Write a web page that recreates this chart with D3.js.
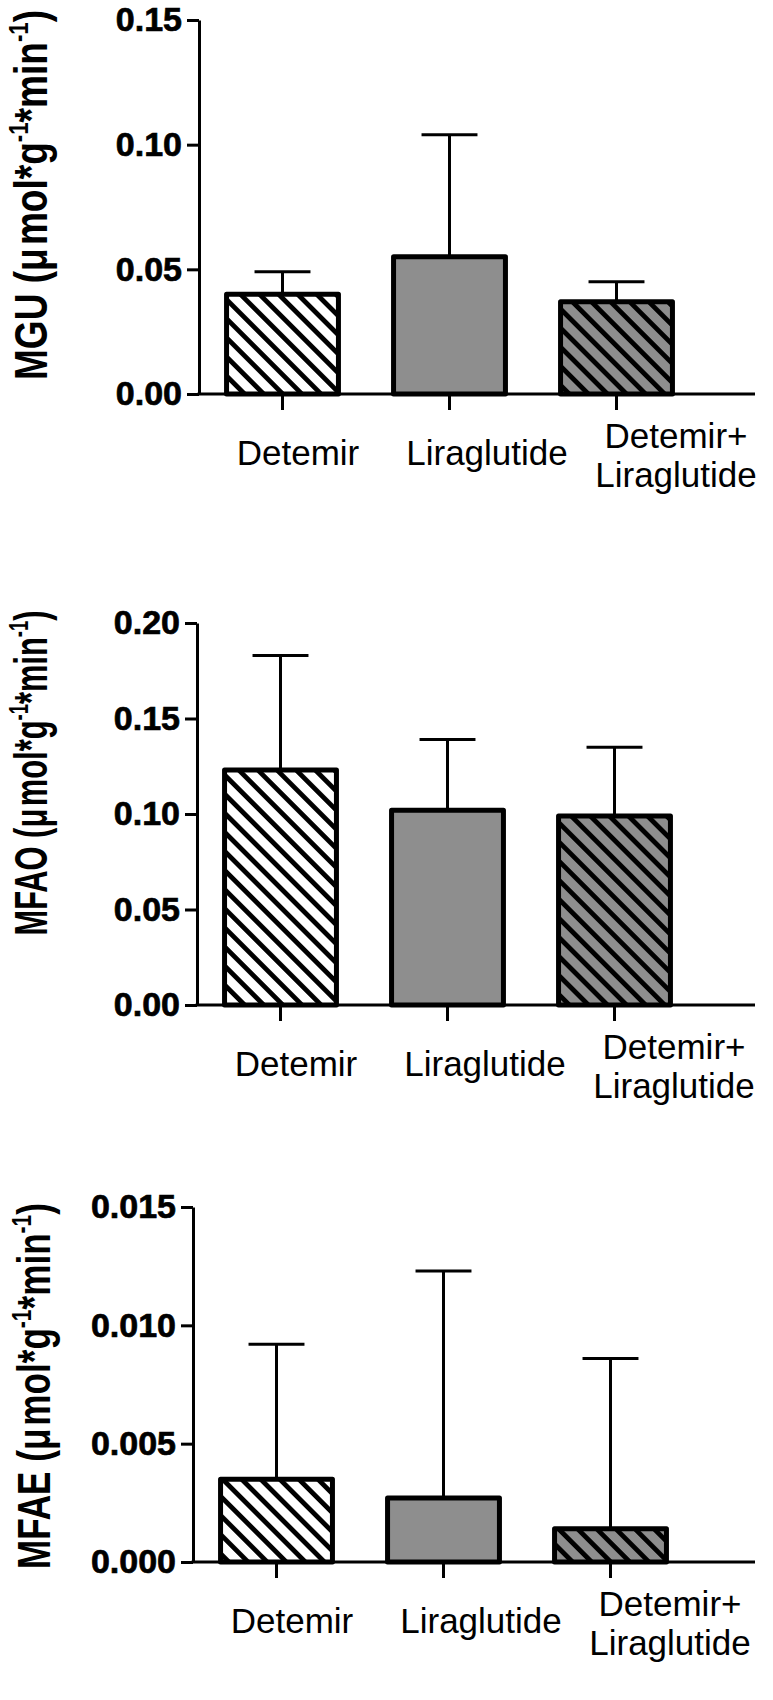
<!DOCTYPE html>
<html>
<head>
<meta charset="utf-8">
<script src="https://cdn.jsdelivr.net/npm/d3@7"></script>
<style>
  body { margin: 0; background: #fff; }
  svg text { font-family: "Liberation Sans", Arial, sans-serif; }
</style>
</head>
<body>
<svg id="chart_svg" width="773" height="1700"></svg>
<script>
// groups on the x axis (each label is split into lines)
const categories = ["Detemir", "Liraglutide", "Detemir+Liraglutide"];
const categoryLines = [["Detemir"], ["Liraglutide"], ["Detemir+", "Liraglutide"]];

// MGU: mean and upper error (SD)
const mguMean = [0.040, 0.055, 0.037];
const mguErr = [0.009, 0.049, 0.008];
const mguTicks = [0, 0.05, 0.10, 0.15];

// MFAO
const mfaoMean = [0.123, 0.102, 0.099];
const mfaoErr = [0.060, 0.037, 0.036];
const mfaoTicks = [0, 0.05, 0.10, 0.15, 0.20];

// MFAE
const mfaeMean = [0.0035, 0.0027, 0.0014];
const mfaeErr = [0.0057, 0.0096, 0.0072];
const mfaeTicks = [0, 0.005, 0.010, 0.015];

const fills = ["url(#hatch_white)", "#8e8e8e", "url(#hatch_grey)"];

const svg = d3.select("#chart_svg");

/**
 * Hatch patterns for the two striped bars
 */
const defs = svg.append("defs");
[["hatch_white", "#fff"], ["hatch_grey", "#8e8e8e"]].forEach(([id, bg]) => {
  const p = defs.append("pattern")
    .attr("id", id)
    .attr("patternUnits", "userSpaceOnUse")
    .attr("width", 13.5)
    .attr("height", 13.5)
    .attr("patternTransform", "rotate(-45)");
  p.append("rect").attr("width", 13.5).attr("height", 13.5).attr("fill", bg);
  p.append("rect").attr("width", 4.8).attr("height", 13.5).attr("fill", "#000");
});

const panels = [
  { name: "MGU", mean: mguMean, err: mguErr, ticks: mguTicks, fmt: d3.format(".2f"),
    left: 199, top: 20, bottom: 394, labelX: 47, labelY: 195, labelLen: 370 },
  { name: "MFAO", mean: mfaoMean, err: mfaoErr, ticks: mfaoTicks, fmt: d3.format(".2f"),
    left: 197, top: 623, bottom: 1005, labelX: 47, labelY: 773, labelLen: 325 },
  { name: "MFAE", mean: mfaeMean, err: mfaeErr, ticks: mfaeTicks, fmt: d3.format(".3f"),
    left: 193, top: 1207, bottom: 1562, labelX: 50, labelY: 1386, labelLen: 366 }
];

panels.forEach((pn) => {
  const g = svg.append("g");
  const bandRight = pn.left + 501;
  const axisRight = 755;

  const xScale = d3.scaleBand()
    .domain(categories)
    .range([pn.left, bandRight])
    .paddingInner(0.33)
    .paddingOuter(0.165);

  // category labels sit a little wider apart than the bars
  const labelScale = d3.scalePoint()
    .domain(categories)
    .range([pn.left + 99, pn.left + 477]);

  const yScale = d3.scaleLinear()
    .domain([0, d3.max(pn.ticks)])
    .range([pn.bottom, pn.top]);

  const data = categories.map((c, i) => ({ cat: c, mean: pn.mean[i], err: pn.err[i], fill: fills[i], lines: categoryLines[i] }));

  // error bars (upper only)
  const eb = g.selectAll(".err").data(data).enter().append("g").attr("class", "err")
    .attr("stroke", "#000").attr("stroke-width", 3);
  eb.append("line")
    .attr("x1", (d) => xScale(d.cat) + xScale.bandwidth() / 2)
    .attr("x2", (d) => xScale(d.cat) + xScale.bandwidth() / 2)
    .attr("y1", (d) => yScale(d.mean))
    .attr("y2", (d) => yScale(d.mean + d.err));
  eb.append("line")
    .attr("x1", (d) => xScale(d.cat) + xScale.bandwidth() / 4)
    .attr("x2", (d) => xScale(d.cat) + xScale.bandwidth() * 3 / 4)
    .attr("y1", (d) => yScale(d.mean + d.err))
    .attr("y2", (d) => yScale(d.mean + d.err));

  // bars
  g.selectAll(".bar").data(data).enter().append("rect")
    .attr("class", "bar")
    .attr("x", (d) => xScale(d.cat))
    .attr("y", (d) => yScale(d.mean))
    .attr("width", xScale.bandwidth())
    .attr("height", (d) => yScale(0) - yScale(d.mean))
    .attr("fill", (d) => d.fill)
    .attr("stroke", "#000")
    .attr("stroke-width", 5)
    .attr("stroke-linejoin", "round");

  // y axis
  const yAxis = d3.axisLeft(yScale).tickValues(pn.ticks).tickFormat(pn.fmt).tickSizeInner(12).tickSizeOuter(0).tickPadding(5);
  const gy = g.append("g").attr("transform", "translate(" + pn.left + ",0)").call(yAxis);
  gy.select(".domain").attr("stroke-width", 3).attr("stroke", "#000");
  gy.selectAll(".tick line").attr("stroke-width", 3).attr("stroke", "#000");
  gy.selectAll(".tick text")
    .attr("font-family", "Liberation Sans, Arial, sans-serif")
    .attr("font-size", 34)
    .attr("font-weight", "bold")
    .attr("fill", "#000")
    .attr("stroke", "#000")
    .attr("stroke-width", 0.7);

  // x axis
  const xAxis = d3.axisBottom(xScale).tickSizeInner(16).tickSizeOuter(0).tickFormat("");
  const gx = g.append("g").attr("transform", "translate(0," + pn.bottom + ")").call(xAxis);
  gx.select(".domain").attr("stroke-width", 3).attr("stroke", "#000")
    .attr("d", "M" + (pn.left - 1.5) + ",0H" + axisRight);
  gx.selectAll(".tick line").attr("stroke-width", 3).attr("stroke", "#000");

  // category labels
  const lab = g.selectAll(".cat").data(data).enter().append("text")
    .attr("class", "cat")
    .attr("text-anchor", "middle")
    .attr("font-size", 35)
    .attr("fill", "#000");
  lab.each(function (d) {
    const t = d3.select(this);
    const x = labelScale(d.cat);
    const y0 = d.lines.length === 1 ? pn.bottom + 71 : pn.bottom + 54;
    d.lines.forEach((ln, k) => {
      t.append("tspan").attr("x", x).attr("y", y0 + k * 38.5).text(ln);
    });
  });

  // y label
  const fs = 47;
  const yl = g.append("text")
    .attr("transform", "translate(" + pn.labelX + "," + pn.labelY + ") rotate(-90)")
    .attr("text-anchor", "middle")
    .attr("font-size", fs)
    .attr("font-weight", "bold")
    .attr("textLength", pn.labelLen)
    .attr("lengthAdjust", "spacingAndGlyphs");
  yl.append("tspan").text(pn.name + " (\u03bc");
  yl.append("tspan").attr("dx", 4).text("mol*g");
  yl.append("tspan").attr("dy", -19).attr("font-size", fs * 0.6).text("-1");
  yl.append("tspan").attr("dy", 19).text("*min");
  yl.append("tspan").attr("dy", -19).attr("font-size", fs * 0.6).text("-1");
  yl.append("tspan").attr("dy", 19).text(")");
});
</script>
</body>
</html>
